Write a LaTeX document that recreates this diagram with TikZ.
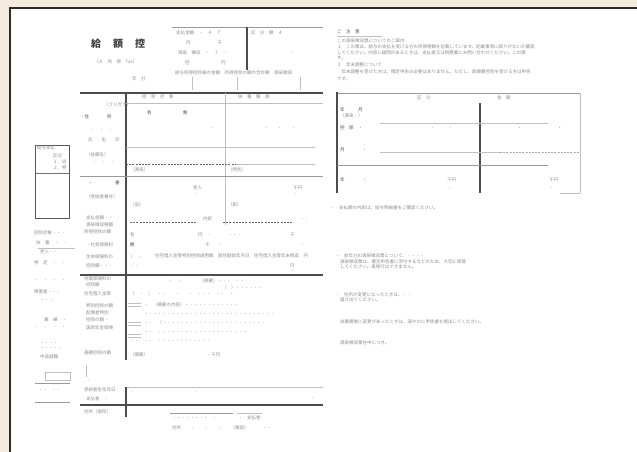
\documentclass[tikz,border=0pt]{standalone}
\usepackage{fontspec}
\newfontfamily\jp{Noto Sans CJK JP}
\definecolor{paper}{HTML}{F3EBDD}
\definecolor{frame}{HTML}{2B2B2B}
\tikzset{
  heavy rule/.style={draw=black!70,line width=1.4pt},
  mid rule/.style={draw=black!40,line width=0.9pt},
  thin rule/.style={draw=black!25,line width=0.5pt},
  dash rule/.style={draw=black!60,line width=0.8pt,dash pattern=on 2pt off 1.2pt},
  txt/.style={anchor=west,inner sep=0pt,font=\jp\fontsize{4.5}{5}\selectfont,text=black!45},
  dark txt/.style={txt,text=black!70},
  title txt/.style={anchor=west,inner sep=0pt,font=\jp\fontsize{10}{11}\selectfont\bfseries,text=black!75},
}

\begin{document}
\begin{tikzpicture}[x=1pt,y=-1pt]
  \useasboundingbox (0,0) rectangle (637,452);
  \fill[paper] (0,0) rectangle (637,452);
  \filldraw[fill=white,draw=frame,line width=1.6pt] (10,8) rectangle (660,470);

  % title block
  \node[title txt] (title) at (91,44) {給\hspace{12pt}額\hspace{12pt}控};
  \node[txt] (sub) at (94,62) {（Ａ　所　得　Tax）};
  \node[txt] (year) at (132,79) {年　分};

  % top table
  \draw[mid rule] (172,27) -- (323,27);
  \draw[heavy rule] (247,27) -- (247,70);
  \node[txt] (t1) at (176,33) {支払金額　・　４　７};
  \node[txt] (t2) at (251,33) {区　分　額　４};
  \node[txt] (t3) at (186,43) {円　　　　　　千};
  \node[txt] (t4) at (178,53) {源泉　徴収　・　７　・};
  \node[txt] (t5) at (185,63) {控　　　　　　　円};
  \node[txt] (t6) at (290,53) {・};
  \node[txt] (t7) at (175,73) {給与所得控除後の金額　所得控除の額の合計額　源泉徴収};
  \foreach \x in {192,237,300}
    \draw[thin rule] (\x,77) -- (\x,90);

  % main table frame
  \draw[heavy rule] (80,93) -- (323,93);
  \draw[heavy rule] (126,93) -- (126,360);
  \draw[thin rule] (225,93) -- (225,225);
  \draw[thin rule] (126,103) -- (323,103);
  \draw[thin rule] (126,147) -- (315,147);
  \draw[dash rule] (126,164) -- (236,164);
  \draw[thin rule] (236,164) -- (315,164);
  \draw[mid rule] (80,176) -- (323,176);
  \draw[dash rule] (130,222) -- (197,222);
  \draw[dash rule] (223,222) -- (293,222);
  \draw[heavy rule] (80,275) -- (323,275);
  \draw[thin rule] (126,387) -- (323,387);
  \draw[heavy rule] (126,387) -- (126,417);
  \draw[heavy rule] (80,405) -- (323,405);
  \draw[thin rule] (86,365) -- (86,377);

  % row labels
  \node[txt] (r1) at (104,105) {（フリガナ）};
  \node[dark txt] (r2) at (80,117) {・住　　　　所};
  \node[txt] (r3) at (90,130) {・　・　・};
  \node[txt] (r4) at (88,140) {氏　　名　　印};
  \node[txt] (r5) at (86,155) {（役職名）};
  \node[txt] (r6) at (92,162) {・　・　・};
  \node[dark txt] (r7) at (88,183) {・　　　　　番};
  \node[txt] (r8) at (86,197) {（受給者番号）};
  \node[txt] (r9) at (86,218) {支払金額・・};
  \node[txt] (r10) at (86,225) {源泉徴収税額};
  \node[txt] (r11) at (84,232) {所得控除の額};
  \node[txt] (r12) at (86,245) {・社会保険料};
  \node[txt] (r13) at (86,257) {生命保険料の};
  \node[txt] (r14) at (86,266) {控除額・・・};
  \node[txt] (r15) at (84,279) {地震保険料の};
  \node[txt] (r16) at (86,285) {控除額};
  \node[txt] (r17) at (84,294) {住宅借入金等};
  \node[txt] (r18) at (86,306) {特別控除の額};
  \node[txt] (r19) at (86,313) {配偶者特別};
  \node[txt] (r20) at (86,320) {控除の額・};
  \node[txt] (r21) at (86,328) {国民年金保険};
  \node[txt] (r22) at (84,353) {基礎控除の額};
  \node[txt] (r23) at (86,380) {・};
  \node[txt] (r24) at (84,390) {受給者生年月日};
  \node[txt] (r25) at (86,399) {支払者　・};
  \node[txt] (r26) at (84,412) {住所（居所）};

  % cells
  \node[txt] (c1) at (142,97) {控　除　対　象};
  \node[txt] (c2) at (238,97) {扶　養　親　族};
  \node[dark txt] (c3) at (147,113) {有　　　　　　　無};
  \node[txt] (c4) at (210,128) {・　　　　　　　　　　　・　　・　　・};
  \node[txt] (c5) at (130,170) {（源泉）};
  \node[txt] (c6) at (228,170) {（特別）};
  \node[txt] (c7) at (193,188) {老人};
  \node[txt] (c8) at (293,188) {千円};
  \node[txt] (c9) at (193,194) {・};
  \node[txt] (c10) at (293,194) {・};
  \node[txt] (c11) at (130,205) {（旧）};
  \node[txt] (c12) at (228,205) {（新）};
  \node[txt] (c13) at (130,218) {・};
  \node[txt] (c14) at (203,219) {内訳};
  \node[txt] (c15) at (300,219) {・・};
  \node[txt] (c16) at (130,235) {有};
  \node[txt] (c17) at (198,235) {円　・};
  \node[txt] (c18) at (228,235) {・・・};
  \node[txt] (c19) at (290,235) {千};
  \node[dark txt] (c20) at (130,245) {無};
  \node[txt] (c21) at (205,245) {千　　・};
  \node[txt] (c22) at (300,245) {・};
  \node[txt] (c23) at (128,257) {（　・};
  \node[txt] (c24) at (155,256) {住宅借入金等特別控除適用数　居住開始年月日　住宅借入金等年末残高　円};
  \node[txt] (c25) at (130,266) {・・};
  \node[txt] (c26) at (290,266) {円};
  \node[txt] (c27) at (290,271) {・};
  \node[txt] (c28) at (168,281) {・　・　　　　（摘要）・・・　・・};
  \node[txt] (c29) at (222,288) {（　）・・・・・・};
  \node[txt] (c30) at (130,294) {（　・　）　・・　　・　　・　・・・　・・　・};
  \node[txt] (c31) at (144,305) {・　（摘要の内容）・・・・・・・・・・・・};
  \node[txt] (c32) at (144,314) {・・・・・・・・・・・・・・・・・・・・・・・・・・・・・};
  \node[txt] (c33) at (144,323) {・・　（・・・・・・・・・・・・・・・・・・・・・・・};
  \node[txt] (c34) at (144,332) {・・　・・・・・・・・・・・・・・・・・・・・};
  \node[txt] (c35) at (130,341) {・・　・・　・・・・・・・・・・・・};
  \node[txt] (c36) at (130,355) {（摘要）　　　　　　　　　　　　　・千円};
  \foreach \y in {303,306,322,325,334,337}
    \draw[thin rule] (128,\y) -- (141,\y);
  \node[txt] (c37) at (130,392) {・　　　　　　　　　　　　　・};
  \node[txt] (c38) at (310,398) {・};

  % bottom table
  \draw[mid rule] (170,413) -- (233,413);
  \draw[thin rule] (237,413) -- (262,413);
  \node[txt] (b1) at (172,418) {・・・・・・・・　・};
  \node[txt] (b2) at (238,418) {・　支払者};
  \node[txt] (b3) at (172,428) {住所　　・　　・　　・　　（電話）　　　・・};

  % left column box
  \draw[draw=black!65,line width=1pt] (35,145) rectangle (69,218);
  \draw[draw=black!55,line width=0.8pt] (35,173) -- (69,173);
  \node[txt] (l1) at (37,148) {給与支払};
  \node[txt] (l2) at (53,156) {区分};
  \node[txt] (l3) at (53,162) {１．従};
  \node[txt] (l4) at (53,168) {２．特};

  % left column notes
  \node[txt] (n1) at (34,233) {控除対象・・・};
  \node[txt] (n2) at (36,243) {扶　養　・　・};
  \node[txt] (n3) at (40,252) {老人・・};
  \draw[thin rule] (38,248) -- (75,248);
  \node[txt] (n4) at (34,263) {特　定　・　・};
  \node[txt] (n5) at (34,280) {・　・　・　・};
  \node[txt] (n6) at (34,292) {障害者・・・};
  \node[txt] (n7) at (40,300) {・・・};
  \node[txt] (n8) at (44,320) {寡　婦　・};
  \node[txt] (n9) at (34,327) {・　・　・　・};
  \node[txt] (n10) at (40,343) {・・・・};
  \node[txt] (n11) at (40,348) {・・・・・};
  \node[txt] (n12) at (40,357) {中途就職};
  \draw[thin rule] (45,372) rectangle (70,380);
  \draw[mid rule] (35,383) -- (70,383);
  \node[txt] (n13) at (38,390) {・・　・・};
  \draw[mid rule] (35,402) -- (70,402);

  % right side notes
  \node[dark txt] (h1) at (337,32) {ご　注　意};
  \draw[thin rule] (337,36) -- (382,36);
  \node[txt] (p1) at (337,41) {この源泉徴収票についてのご案内};
  \node[txt] (p2) at (337,47) {１　この票は、給与の支払を受ける方の所得税額を記載しています。記載事項に誤りがないか確認};
  \node[txt] (p3) at (337,53) {してください。内容に疑問があるときは、支払者又は税務署にお問い合わせください。この票};
  \node[txt] (p4) at (337,58) {す。};
  \node[txt] (p5) at (337,65) {２　年末調整について};
  \node[txt] (p6) at (337,72) {　年末調整を受けた方は、確定申告の必要はありません。ただし、医療費控除を受ける方は申告};
  \node[txt] (p7) at (337,79) {です。};

  % right table
  \draw[mid rule] (337,93) -- (580,93);
  \draw[heavy rule] (337,92) -- (337,193);
  \draw[thin rule] (580,93) -- (580,193);
  \draw[heavy rule] (480,103) -- (480,193);
  \draw[thin rule] (380,123) -- (548,123);
  \draw[thin rule] (380,152) -- (500,152);
  \draw[dash rule,draw=black!35] (500,152) -- (580,152);
  \draw[mid rule] (337,165) -- (548,165);
  \draw[thin rule] (560,193) -- (580,193);
  \node[txt] (q1) at (417,98) {区　分};
  \node[txt] (q2) at (497,98) {金　額};
  \node[dark txt] (q3) at (340,110) {年　　　月};
  \node[txt] (q4) at (340,116) {（源泉・）};
  \node[dark txt] (q5) at (340,128) {控　除　・};
  \node[txt] (q6) at (430,128) {・　　　・};
  \node[dark txt] (q7) at (517,128) {・　　　　　　　　・};
  \node[dark txt] (q8) at (340,150) {月　　　　・};
  \node[dark txt] (q9) at (340,180) {年　　　　・};
  \node[txt] (q10) at (447,180) {千円};
  \node[txt] (q11) at (549,180) {千円};
  \node[txt] (q12) at (447,188) {・};
  \node[txt] (q13) at (549,188) {・};

  \node[txt] (s1) at (330,208) {・　支払額の内訳は、給与明細書をご確認ください。};
  \node[txt] (s2) at (335,256) {・　前年分の源泉徴収票について、・・・・};
  \node[txt] (s3) at (340,262) {源泉徴収票は、確定申告書に添付するなどのため、大切に保管};
  \node[txt] (s4) at (340,267) {してください。再発行はできません。};
  \node[txt] (s5) at (335,295) {・　住所が変更になったときは、・・};
  \node[txt] (s6) at (340,300) {届け出てください。};
  \node[txt] (s7) at (340,322) {扶養親族に変更があったときは、速やかに申告書を提出してください。};
  \node[txt] (s8) at (340,343) {源泉徴収票在中につき。};
\end{tikzpicture}
\end{document}
